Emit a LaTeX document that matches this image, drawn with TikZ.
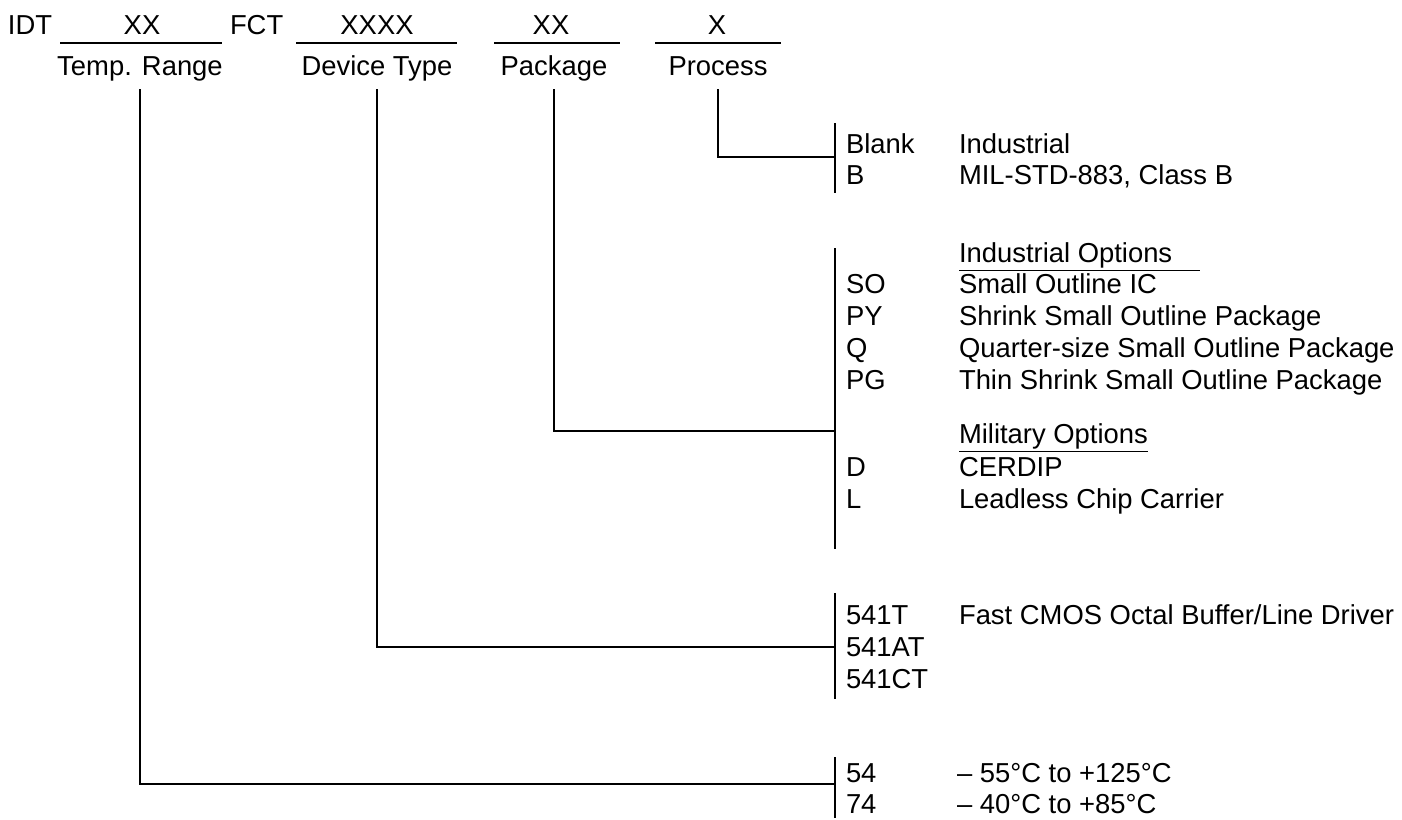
\documentclass[tikz,border=0pt]{standalone}
\usepackage{fontspec}
\setmainfont{Liberation Sans}
\begin{document}
\begin{tikzpicture}[x=0.5pt,y=-0.5pt,line width=1pt]

    \tikzset{
      txt/.style={
        anchor=base west,
        inner sep=0pt,
        font=\fontsize{13.7}{16}\selectfont,
      },
      field/.style={
        anchor=base,
        inner sep=0pt,
        text depth=2.6pt,
        font=\fontsize{13.7}{16}\selectfont,
      },
      lead/.style={shorten <=4pt},
    }
    \useasboundingbox (0,0) rectangle (1402,819);

    % part number
    \node[txt] (idt) at (7,34) {IDT};
    \node[field] (xxa) at (142,34) {XX};
    \draw (60,43) -- (222,43);
    \node[txt] (fct) at (229,34) {FCT};
    \node[field] (xxxx) at (377,34) {XXXX};
    \draw (296,43) -- (457,43);
    \node[field] (xxb) at (551,34) {XX};
    \draw (494,43) -- (620,43);
    \node[field] (xc) at (717,34) {X};
    \draw (655,43) -- (781,43);

    \node[field] (temp) at (140,75) {Temp. Range};
    \node[field] (device) at (377,75) {Device Type};
    \node[field] (package) at (554,75) {Package};
    \node[field] (process) at (718,75) {Process};

    % brackets
    \coordinate (procjoin) at (835,157);
    \coordinate (packjoin) at (835,431);
    \coordinate (devjoin) at (835,647);
    \coordinate (tempjoin) at (835,784);
    \draw (835,123) -- (835,193);
    \draw (835,248) -- (835,549);
    \draw (835,593) -- (835,699);
    \draw (835,757) -- (835,818);

    \draw[lead] (process.south) |- (procjoin);
    \draw[lead] (package.south) |- (packjoin);
    \draw[lead] (device.south) |- (devjoin);
    \draw[lead] (temp.south) |- (tempjoin);

    % process
    \node[txt] (blank) at (845,153) {Blank};
    \node[txt] (blankd) at (958,153) {Industrial};
    \node[txt] (b) at (845,184) {B};
    \node[txt] (bd) at (958,184) {MIL-STD-883, Class B};

    % package
    \node[txt] (indopt) at (958,262) {\underline{Industrial Options\hspace{14pt}}};
    \foreach \c/\d/\y in {SO/Small Outline IC/293,
                          PY/Shrink Small Outline Package/325,
                          Q/Quarter-size Small Outline Package/357,
                          PG/Thin Shrink Small Outline Package/389,
                          D/CERDIP/476,
                          L/Leadless Chip Carrier/508}
      \node[txt] (code-\c) at (845,\y) {\c}
        node[txt] (desc-\c) at (958,\y) {\d};
    \node[txt] (milopt) at (958,443) {\underline{Military Options}};

    % device type
    \node[txt] (dt1) at (845,624) {541T};
    \node[txt] (dt1d) at (958,624) {Fast CMOS Octal Buffer/Line Driver};
    \node[txt] (dt2) at (845,656) {541AT};
    \node[txt] (dt3) at (845,688) {541CT};

    % temp range
    \node[txt] (t54) at (845,782) {54};
    \node[txt] (t54d) at (956,782) {– 55°C to +125°C};
    \node[txt] (t74) at (845,813) {74};
    \node[txt] (t74d) at (956,813) {– 40°C to +85°C};

\end{tikzpicture}
\end{document}
